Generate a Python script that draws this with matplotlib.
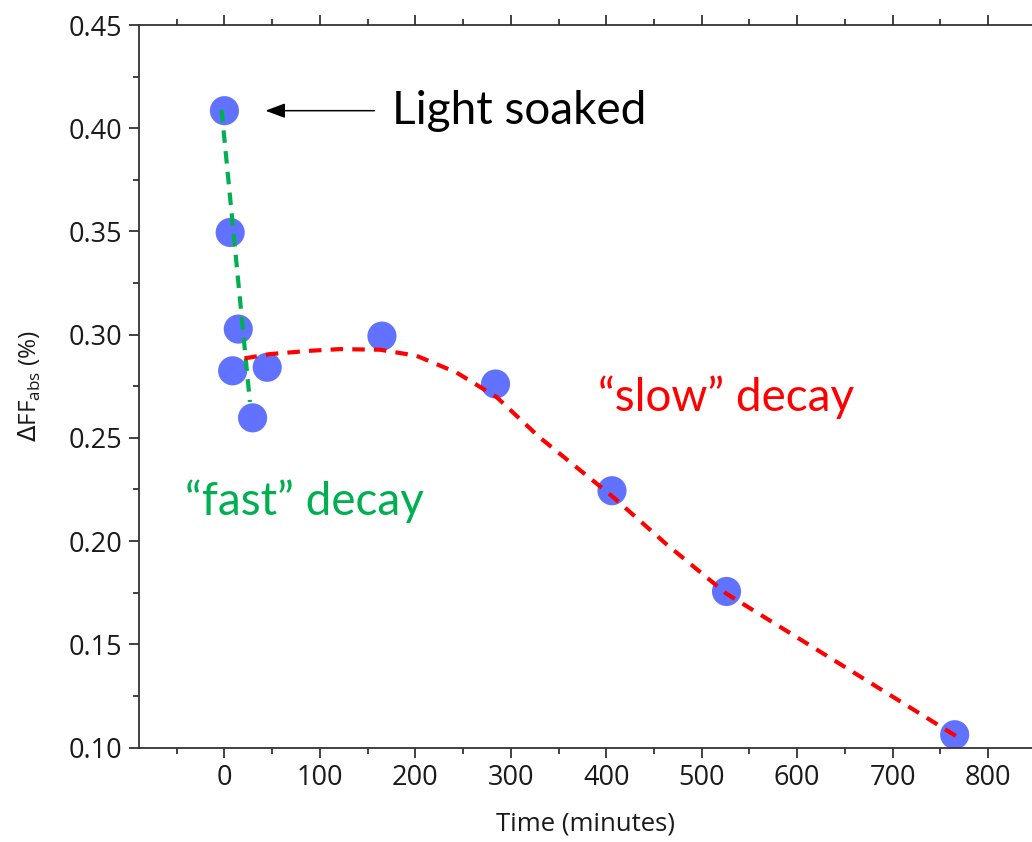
import matplotlib.pyplot as plt
from matplotlib.ticker import MultipleLocator

# measured points (time in minutes, delta FF abs in %)
time_min = [0, 6, 14.5, 8.6, 44.8, 29.5, 165, 284, 406, 526, 765]
dff_abs = [0.4085, 0.3495, 0.3027, 0.2825, 0.2842, 0.2597, 0.2993, 0.2761, 0.2244, 0.1756, 0.1062]

# hand drawn guide lines
fast_x = [-3, 26.7]
fast_y = [0.409, 0.2674]
slow_x = [21, 48, 90, 121, 163, 201, 243, 285, 330, 405, 463, 526, 650, 767]
slow_y = [0.2885, 0.2906, 0.2922, 0.293, 0.2927, 0.2898, 0.2817, 0.2698, 0.2503,
          0.2222, 0.1985, 0.1745, 0.139, 0.1054]

fig = plt.figure(figsize=(10.32, 8.42), dpi=100)
ax = fig.add_axes([0.1347, 0.1122, 0.8653, 0.8581])

ax.scatter(time_min, dff_abs, s=440, color='#6072FF', zorder=2, edgecolors='none')
ax.plot(fast_x, fast_y, color='#00B050', lw=3, dashes=(3.0, 2.0), zorder=3)
ax.plot(slow_x, slow_y, color='#FF0000', lw=3, dashes=(3.0, 2.2), zorder=3)

ax.set_xlim(-89.5, 846)
ax.set_ylim(0.10, 0.45)
ax.xaxis.set_major_locator(MultipleLocator(100))
ax.xaxis.set_minor_locator(MultipleLocator(50))
ax.yaxis.set_major_locator(MultipleLocator(0.05))
ax.yaxis.set_minor_locator(MultipleLocator(0.025))
ax.yaxis.set_major_formatter(plt.FormatStrFormatter('%.2f'))

ax.spines['right'].set_visible(False)
for s in ['left', 'top', 'bottom']:
    ax.spines[s].set_color('#333333')
    ax.spines[s].set_linewidth(1.3)
ax.tick_params(which='both', direction='out', top=True, right=False, color='#333333', width=1.3)
ax.tick_params(which='major', length=7, labelsize=19.5, labelcolor='#1a1a1a', pad=5)
ax.tick_params(which='minor', length=4)
for lab in ax.get_xticklabels() + ax.get_yticklabels():
    lab.set_family('Open Sans')

ax.set_xlabel('Time (minutes)', fontsize=18.5, family='Open Sans', labelpad=14, color='#1a1a1a')
ax.set_ylabel(r'$\Delta$FF$_{\mathregular{abs}}$ (%)', fontsize=17.5, family='Open Sans', color='#1a1a1a')
ax.yaxis.set_label_coords(-0.108, 0.5)

ax.annotate('', xy=(40, 0.4085), xytext=(160, 0.4085),
            arrowprops=dict(arrowstyle='-|>,head_length=1.2,head_width=0.45', color='black', lw=1.1))
ax.text(176, 0.4085, 'Light soaked', fontsize=33, family='Lato', va='center', ha='left')
ax.text(-41.4, 0.2195, '\u201cfast\u201d decay', fontsize=33, family='Lato', color='#00B050', va='center', ha='left')
ax.text(391, 0.2695, '\u201cslow\u201d decay', fontsize=33, family='Lato', color='#FF0000', va='center', ha='left')

fig.savefig('out.png', dpi=100)
